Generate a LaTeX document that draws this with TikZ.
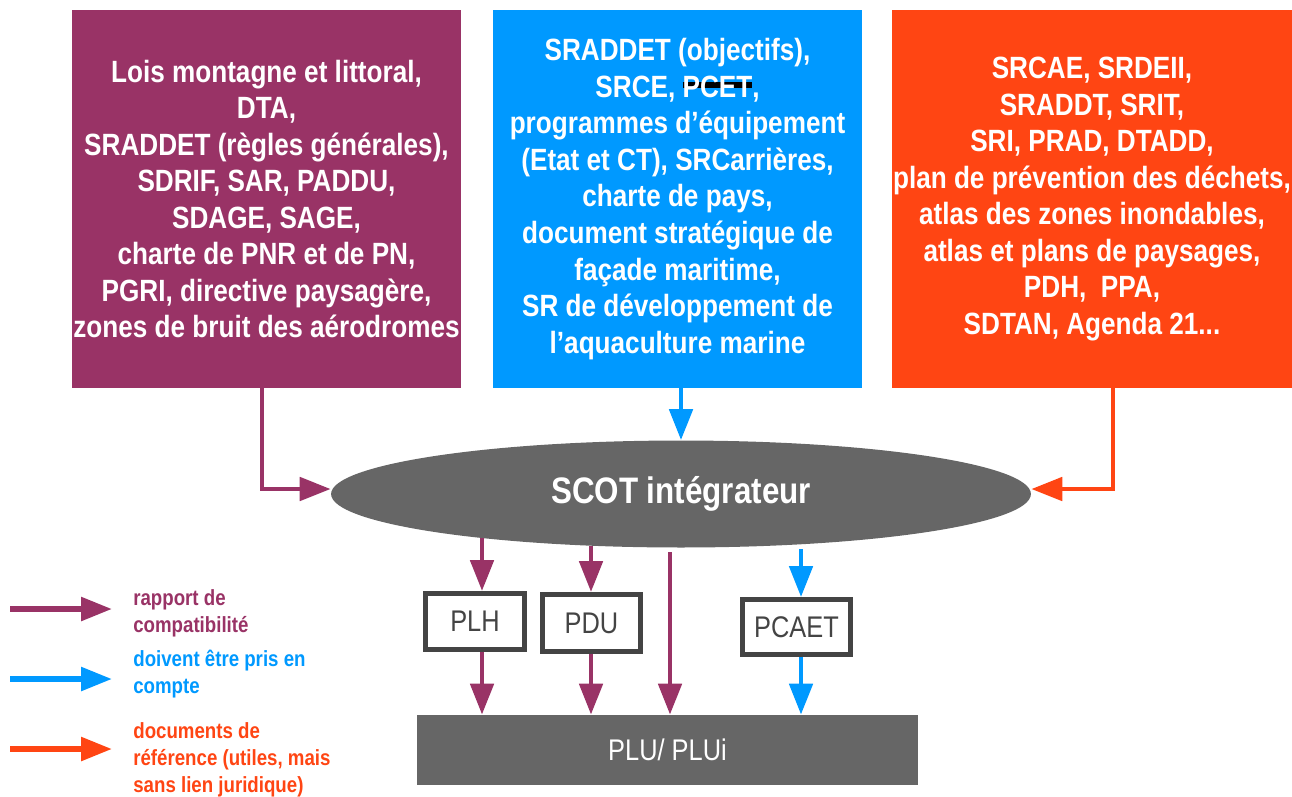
\documentclass[tikz,border=0pt]{standalone}
\usepackage{fontspec}
\setmainfont{Liberation Sans}[FakeStretch=0.85]
\usetikzlibrary{arrows.meta,shapes.geometric}

\definecolor{compat}{HTML}{993366}
\definecolor{prisencompte}{HTML}{0099FF}
\definecolor{reference}{HTML}{FF4513}
\definecolor{gris}{HTML}{666666}
\definecolor{grisfonce}{HTML}{444444}

\newcommand\barre[1]{\setbox0\hbox{#1}\rlap{\color{black}\rule[5.5pt]{\wd0}{3.4pt}}\box0}

\tikzset{
  docbox/.style={minimum height=7.56cm, inner sep=0pt, text=white, align=center,
    font=\bfseries\fontsize{17.5}{20.8}\selectfont},
  planbox/.style={draw=grisfonce, line width=2.8pt, fill=white, inner sep=0pt,
    text=grisfonce, font=\fontsize{17}{20}\selectfont},
  fleche/.style={line width=2.8pt, -{Triangle[length=0.62cm,width=0.46cm]}},
  legende/.style={anchor=west, align=left, inner sep=0pt, font=\bfseries\fontsize{12.5}{15.3}\selectfont}
}

\begin{document}
\begin{tikzpicture}[x=0.02cm,y=-0.02cm]
\useasboundingbox (0,0) rectangle (1292,796);

\begin{scope}
\node[docbox, fill=compat, minimum width=7.78cm] (lois) at (266.5,199)
  {Lois montagne et littoral,\\DTA,\\SRADDET (règles générales),\\SDRIF, SAR, PADDU,\\SDAGE, SAGE,\\charte de PNR et de PN,\\PGRI, directive paysagère,\\zones de bruit des aérodromes};
\node[docbox, fill=prisencompte, minimum width=7.38cm] (sraddet) at (677.5,199)
  {SRADDET (objectifs),\\SRCE, \barre{PCET},\\programmes d’équipement\\(Etat et CT), SRCarrières,\\charte de pays,\\document stratégique de\\façade maritime,\\SR de développement de\\l’aquaculture marine};
\node[docbox, fill=reference, minimum width=8cm] (srcae) at (1092,199)
  {SRCAE, SRDEII,\\SRADDT, SRIT,\\SRI, PRAD, DTADD,\\plan de prévention des déchets,\\atlas des zones inondables,\\atlas et plans de paysages,\\PDH,~ PPA,\\SDTAN, Agenda 21...};

\node[ellipse, fill=gris, minimum width=14cm, minimum height=2.14cm, inner sep=0pt,
  text=white, font=\bfseries\fontsize{21}{24}\selectfont] (scot) at (681,494) {SCOT intégrateur};

\node[planbox, minimum width=1.98cm, minimum height=1.12cm] (plh) at (475,621.5) {PLH};
\node[planbox, minimum width=1.96cm, minimum height=1.14cm] (pdu) at (591.5,623) {PDU};
\node[planbox, minimum width=2.16cm, minimum height=1.1cm] (pcaet) at (796.5,627) {PCAET};
\node[fill=gris, minimum width=10.02cm, minimum height=1.4cm, inner sep=0pt, text=white,
  font=\fontsize{17}{20}\selectfont] (plu) at (667.5,750) {PLU/ PLUi};

\coordinate (c1) at (262,489);
\coordinate (c2) at (1113,489);
\coordinate (s1) at (482,538);
\coordinate (s2) at (591,546);
\coordinate (s3) at (670,552);
\coordinate (s4) at (801,549);

\draw[fleche, compat] (lois.south -| c1) -- (c1) -- (c1 -| scot.west);
\draw[fleche, prisencompte] (scot.north |- sraddet.south) -- (scot.north);
\draw[fleche, reference] (srcae.south -| c2) -- (c2) -- (c2 -| scot.east);

\draw[fleche, compat] (s1) -- (s1 |- plh.north);
\draw[fleche, compat] (s2) -- (s2 |- pdu.north);
\draw[fleche, compat] (s3) -- (s3 |- plu.north);
\draw[fleche, prisencompte] (s4) -- (s4 |- pcaet.north);
\draw[fleche, compat] (s1 |- plh.south) -- (s1 |- plu.north);
\draw[fleche, compat] (s2 |- pdu.south) -- (s2 |- plu.north);
\draw[fleche, prisencompte] (s4 |- pcaet.south) -- (s4 |- plu.north);
\end{scope}

\begin{scope}
\coordinate (l1) at (10,609);
\coordinate (m1) at (112,609);
\coordinate (l2) at (10,679);
\coordinate (m2) at (112,679);
\coordinate (l3) at (10,749);
\coordinate (m3) at (112,749);

\draw[fleche, compat, line width=3.2pt] (l1) -- (m1);
\draw[fleche, prisencompte, line width=3.2pt] (l2) -- (m2);
\draw[fleche, reference, line width=3.2pt] (l3) -- (m3);

\node[legende, text=compat] (tcompat) at (133,613) {rapport de\\compatibilité};
\node[legende, text=prisencompte] (tcompte) at (133,674) {doivent être pris en\\compte};
\node[legende, text=reference] (treference) at (133,760) {documents de\\référence (utiles, mais\\sans lien juridique)};
\end{scope}

\end{tikzpicture}
\end{document}
